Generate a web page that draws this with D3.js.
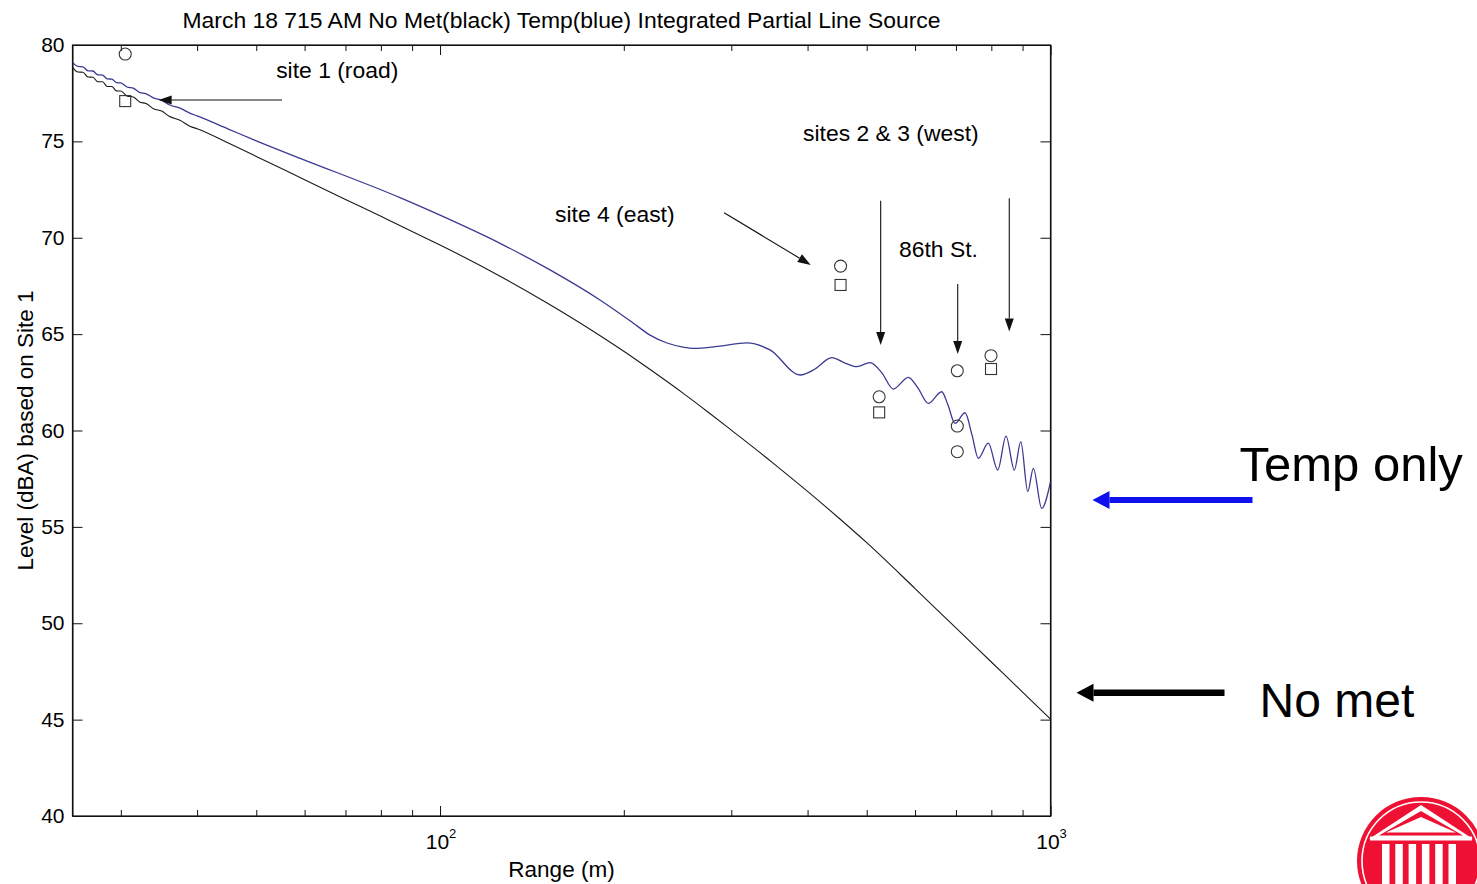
<!DOCTYPE html>
<html>
<head>
<meta charset="utf-8">
<script src="https://cdnjs.cloudflare.com/ajax/libs/d3/7.8.5/d3.min.js"></script>
<style>
body { margin: 0; background: #fff; }
svg text { font-family: 'Liberation Sans', Arial, sans-serif; fill: #000; }
</style>
</head>
<body>
<div id="chart"></div>
<script>
// values
var rangeNoMet = [25, 25.5, 26, 26.5, 27, 27.5, 28, 28.5, 29, 29.5, 30, 30.7, 31.5, 32.2, 33, 34, 35, 36, 37.5, 39,
    40, 45, 50, 60, 70, 80, 90, 100, 110, 125, 150, 180, 200, 220, 250, 275, 300, 350, 400, 450,
    500, 600, 700, 800, 900, 1000];
var levelNoMet = [78.85, 78.60, 78.59, 78.34, 78.33, 78.09, 78.09, 77.85, 77.85, 77.62, 77.61, 77.36, 77.29, 77.04, 76.96, 76.68, 76.57, 76.30, 76.09, 75.77,
    75.66, 74.91, 74.22, 73.01, 71.99, 71.11, 70.33, 69.62, 68.96, 68.03, 66.60, 65.06, 64.11, 63.20, 61.94, 60.95, 60.02, 58.35, 56.84, 55.46,
    54.18, 51.80, 49.76, 47.99, 46.43, 45.03];

var rangeTemp = [25, 25.5, 26, 26.5, 27, 27.5, 28, 28.5, 29, 29.5, 30, 30.7, 31.5, 32.2, 33, 34, 35, 36, 37.5, 39,
    40, 45, 50, 59, 86, 100, 125.4, 151.4, 182.8, 207.1, 220.8, 235.4, 250, 259.7, 287.5, 318, 347.1, 388.8, 411.5, 438.1,
    460.7, 481.5, 506.2, 529.7, 552.7, 584.9, 606.7, 630.6, 663.4, 679.3, 697.5, 724.4, 743.7, 761.6, 790.9, 819.5, 845.6, 872.5, 894, 917.9,
    937.3, 967.4, 1000];
var levelTemp = [79.10, 78.89, 78.87, 78.66, 78.65, 78.45, 78.44, 78.24, 78.23, 78.05, 78.03, 77.82, 77.75, 77.54, 77.47, 77.24, 77.13, 76.90, 76.72, 76.45,
    76.32, 75.64, 75.03, 74.12, 72.08, 71.17, 69.71, 68.33, 66.77, 65.58, 64.95, 64.54, 64.33, 64.26, 64.38, 64.55, 64.18, 62.88, 63.19, 63.78,
    63.50, 63.31, 63.52, 62.98, 62.15, 62.76, 62.20, 61.41, 62.01, 61.32, 60.37, 60.92, 59.77, 58.56, 59.34, 57.95, 59.71, 57.95, 59.42, 56.83,
    58.04, 55.96, 57.34];

// measured levels (circles and squares)
var circleRange = [30.5, 453, 524, 703.6, 703.6, 703.6, 799];
var circleLevel = [79.53, 68.53, 61.75, 63.10, 60.23, 58.90, 63.88];
var squareRange = [30.5, 453, 524, 799];
var squareLevel = [77.09, 67.55, 60.94, 63.19];

var xMajorTicks = [100, 1000];
var xMinorTicks = [30, 40, 50, 60, 70, 80, 90, 200, 300, 400, 500, 600, 700, 800, 900];
var yTicks = [40, 45, 50, 55, 60, 65, 70, 75, 80];

// annotations
var noteText = ['site 1 (road)', 'site 4 (east)', 'sites 2 & 3 (west)', '86th St.'];
var noteRange = [53.9, 154.3, 393.3, 564.7];
var noteLevel = [78.27, 70.83, 75.02, 69.02];
var arrowFrom = [[55.1, 77.15], [292, 71.30], [527, 71.92], [856, 72.05], [704.7, 67.60]];
var arrowTo = [[34.6, 77.15], [404.8, 68.59], [527, 64.44], [856, 65.13], [704.7, 63.97]];

// set margin, width and height of the graph
var margin = {
        top: 45,
        right: 426.5,
        bottom: 68,
        left: 72.5
    },
    width = 1477 - margin.left - margin.right,
    height = 884 - margin.top - margin.bottom;

var root = d3.select('#chart')
    .append('svg')
    .attr('width', 1477)
    .attr('height', 884);

var svg = root.append('g')
    .attr('transform', 'translate(' + margin.left + ',' + margin.top + ')');

var x = d3.scaleLog().domain([25, 1000]).range([0, width]);
var y = d3.scaleLinear().domain([40, 80]).range([height, 0]);

// title and axis titles
svg.append('text')
    .attr('text-anchor', 'middle')
    .attr('x', width / 2)
    .attr('y', -17)
    .style('font-size', '22.9px')
    .text('March 18 715 AM No Met(black) Temp(blue) Integrated Partial Line Source');

svg.append('text')
    .attr('text-anchor', 'middle')
    .attr('x', width / 2)
    .attr('y', height + 61)
    .style('font-size', '22.5px')
    .text('Range (m)');

svg.append('text')
    .attr('text-anchor', 'middle')
    .attr('transform', 'translate(' + (-40) + ',' + (height / 2) + ') rotate(-90)')
    .style('font-size', '22.5px')
    .text('Level (dBA) based on Site 1');

// inward ticks on all four sides
function tickAxis(axis, values, size) {
    return axis.tickValues(values).tickSizeInner(-size).tickSizeOuter(0).tickFormat('');
}
svg.append('g').attr('transform', 'translate(0,' + height + ')').call(tickAxis(d3.axisBottom(x), xMajorTicks, 10));
svg.append('g').attr('transform', 'translate(0,' + height + ')').call(tickAxis(d3.axisBottom(x), xMinorTicks, 6));
svg.append('g').call(tickAxis(d3.axisTop(x), xMajorTicks, 10));
svg.append('g').call(tickAxis(d3.axisTop(x), xMinorTicks, 6));
svg.append('g').call(tickAxis(d3.axisLeft(y), yTicks, 10));
svg.append('g').attr('transform', 'translate(' + width + ',0)').call(tickAxis(d3.axisRight(y), yTicks, 10));
svg.selectAll('.domain, .tick line').attr('stroke', '#111');

svg.append('rect')
    .attr('width', width)
    .attr('height', height)
    .attr('fill', 'none')
    .attr('stroke', '#111')
    .attr('stroke-width', 1.2);

// tick labels
svg.selectAll('.ylab')
    .data(yTicks)
    .enter()
    .append('text')
    .attr('text-anchor', 'end')
    .attr('x', -8)
    .attr('y', function(d) { return y(d) + 7; })
    .style('font-size', '21px')
    .text(function(d) { return d; });

var xl = svg.selectAll('.xlab')
    .data(xMajorTicks)
    .enter()
    .append('text')
    .attr('text-anchor', 'middle')
    .attr('x', function(d) { return x(d) + 1; })
    .attr('y', height + 33)
    .style('font-size', '21px');
xl.append('tspan').text('10');
xl.append('tspan')
    .attr('dy', -11)
    .style('font-size', '13px')
    .text(function(d) { return Math.round(Math.log10(d)); });

// clip for the curves
svg.append('defs').append('clipPath')
    .attr('id', 'clip')
    .append('rect')
    .attr('width', width)
    .attr('height', height);

var line = d3.line()
    .x(function(d) { return x(d[0]); })
    .y(function(d) { return y(d[1]); })
    .curve(d3.curveMonotoneX);

svg.append('path')
    .datum(d3.zip(rangeNoMet, levelNoMet))
    .attr('clip-path', 'url(#clip)')
    .attr('fill', 'none')
    .attr('stroke', '#1a1a1a')
    .attr('stroke-width', 1.1)
    .attr('d', line);

svg.append('path')
    .datum(d3.zip(rangeTemp, levelTemp))
    .attr('clip-path', 'url(#clip)')
    .attr('fill', 'none')
    .attr('stroke', '#3a3a92')
    .attr('stroke-width', 1.3)
    .attr('d', line);

// measured points
svg.selectAll('.circ')
    .data(d3.zip(circleRange, circleLevel))
    .enter()
    .append('circle')
    .attr('cx', function(d) { return x(d[0]); })
    .attr('cy', function(d) { return y(d[1]); })
    .attr('r', 6)
    .attr('fill', 'none')
    .attr('stroke', '#333')
    .attr('stroke-width', 1.1);

svg.selectAll('.sq')
    .data(d3.zip(squareRange, squareLevel))
    .enter()
    .append('rect')
    .attr('x', function(d) { return x(d[0]) - 5.5; })
    .attr('y', function(d) { return y(d[1]) - 5.5; })
    .attr('width', 11)
    .attr('height', 11)
    .attr('fill', 'none')
    .attr('stroke', '#333')
    .attr('stroke-width', 1.1);

// annotation texts
svg.selectAll('.note')
    .data(noteText)
    .enter()
    .append('text')
    .attr('x', function(d, i) { return x(noteRange[i]); })
    .attr('y', function(d, i) { return y(noteLevel[i]); })
    .style('font-size', '22.9px')
    .text(function(d) { return d; });

// arrow: shaft plus a filled head at the tip
function drawArrow(g, x1, y1, x2, y2, len, half, sw, color) {
    var dx = x2 - x1, dy = y2 - y1, L = Math.sqrt(dx * dx + dy * dy);
    var ux = dx / L, uy = dy / L;
    var bx = x2 - ux * len, by = y2 - uy * len;
    g.append('line')
        .attr('x1', x1).attr('y1', y1)
        .attr('x2', bx).attr('y2', by)
        .attr('stroke', color)
        .attr('stroke-width', sw);
    g.append('polygon')
        .attr('points', [
            [x2, y2],
            [bx - uy * half, by + ux * half],
            [bx + uy * half, by - ux * half]
        ].map(function(p) { return p.join(','); }).join(' '))
        .attr('fill', color);
}

arrowFrom.forEach(function(f, i) {
    var t = arrowTo[i];
    drawArrow(svg, x(f[0]), y(f[1]), x(t[0]), y(t[1]), 13, 4.5, 1.1, '#111');
});

// big side labels pointing at the two curve ends
var side = svg.append('g');
drawArrow(side, width + 202, y(56.4), width + 42, y(56.4), 17, 9, 6, '#1010ee');
drawArrow(side, width + 174, y(46.4), width + 26, y(46.4), 17, 9, 6.5, '#000');
side.append('text')
    .attr('x', width + 189)
    .attr('y', y(56.4) - 19)
    .style('font-size', '49px')
    .text('Temp only');
side.append('text')
    .attr('x', width + 209)
    .attr('y', y(46.4) + 24)
    .style('font-size', '48px')
    .text('No met');

// logo in the corner
var logo = root.append('g').attr('transform', 'translate(1421,861)');
logo.append('circle').attr('r', 64).attr('fill', '#ee1133');
logo.append('circle').attr('r', 59).attr('fill', 'none').attr('stroke', '#fff').attr('stroke-width', 1.6);
logo.append('polygon').attr('points', '0,-56 -52,-22 52,-22').attr('fill', '#fff');
logo.append('polygon').attr('points', '0,-50 -42,-25.5 42,-25.5').attr('fill', '#ee1133');
logo.append('polygon').attr('points', '0,-44 -35,-28.5 35,-28.5').attr('fill', '#fff');
logo.append('rect').attr('x', -51).attr('y', -24.5).attr('width', 102).attr('height', 4).attr('fill', '#fff');
d3.range(6).forEach(function(i) {
    logo.append('rect')
        .attr('x', -39 + i * 13.3)
        .attr('y', -17)
        .attr('width', 7.5)
        .attr('height', 50)
        .attr('fill', '#fff');
});
</script>
</body>
</html>
